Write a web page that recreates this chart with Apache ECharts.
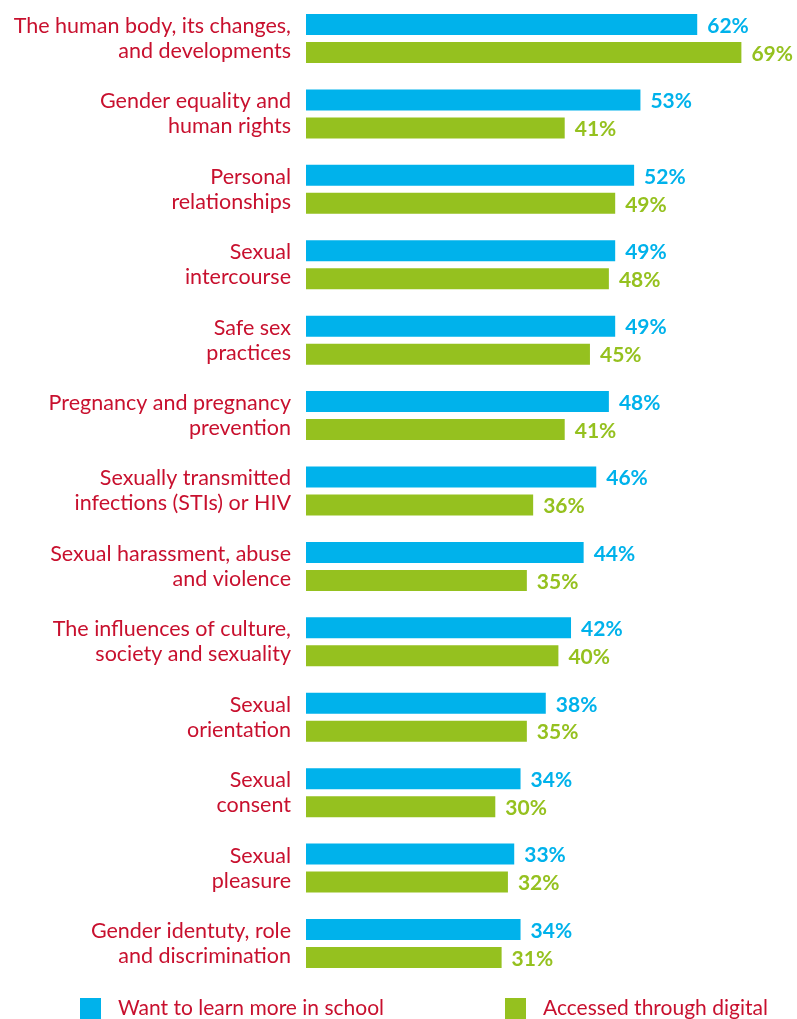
<!DOCTYPE html>
<html><head><meta charset="utf-8">
<script src="https://cdn.jsdelivr.net/npm/echarts@6/dist/echarts.min.js"></script>
<style>html,body{margin:0;padding:0;background:#fff}#c{width:797px;height:1019px}</style>
</head><body><div id="c"></div>
<script>
var categories = [
  "The human body, its changes,\nand developments",
  "Gender equality and\nhuman rights",
  "Personal\nrelationships",
  "Sexual\nintercourse",
  "Safe sex\npractices",
  "Pregnancy and pregnancy\nprevention",
  "Sexually transmitted\ninfections (STIs) or HIV",
  "Sexual harassment, abuse\nand violence",
  "The influences of culture,\nsociety and sexuality",
  "Sexual\norientation",
  "Sexual\nconsent",
  "Sexual\npleasure",
  "Gender identuty, role\nand discrimination"
];
var seriesNames = ["Want to learn more in school", "Accessed through digital"];
var wantSchool = [62, 53, 52, 49, 49, 48, 46, 44, 42, 38, 34, 33, 34];
var digital = [69, 41, 49, 48, 45, 41, 36, 35, 40, 35, 30, 32, 31];

var BLUE = '#00B2EB', GREEN = '#95C11F', RED = '#C8102E';
var chart = echarts.init(document.getElementById('c'));
function lbl(color){
  return {show:true, position:'right', distance:10, offset:[0,1.5], formatter:'{c}%', color:color,
    fontFamily:'Lato', fontWeight:'bold', fontSize:21};
}
var legText = {color:RED, fontFamily:'Lato', fontSize:21, padding:[0,0,0,12]};
chart.setOption({
  animation:false,
  grid:{left:306, top:0.8, right:0, height:980.4, containLabel:false},
  xAxis:{type:'value', min:0, max:491/6.31, show:false},
  yAxis:{type:'category', inverse:true, data:categories,
    axisLine:{show:false}, axisTick:{show:false}, splitLine:{show:false},
    axisLabel:{margin:15, color:RED, fontFamily:'Lato', fontSize:21.5, lineHeight:25, align:'right'}},
  legend:[
    {left:80, top:998, padding:0, itemWidth:21, itemHeight:21, icon:'rect', data:[seriesNames[0]], textStyle:legText},
    {left:505, top:998, padding:0, itemWidth:21, itemHeight:21, icon:'rect', data:[seriesNames[1]], textStyle:legText}
  ],
  series:[
    {name:seriesNames[0], type:'bar', data:wantSchool, barWidth:21, barGap:'33%',
      itemStyle:{color:BLUE}, label:lbl(BLUE)},
    {name:seriesNames[1], type:'bar', data:digital, barWidth:21,
      itemStyle:{color:GREEN}, label:lbl(GREEN)}
  ]
});
</script></body></html>
